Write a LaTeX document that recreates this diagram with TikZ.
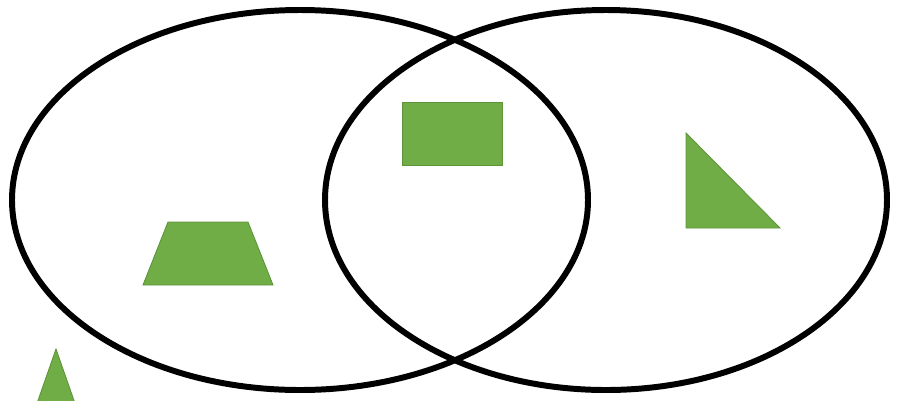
\documentclass[tikz,border=0pt]{standalone}
\usepackage{tikz}
\definecolor{leafgreen}{HTML}{70AD47}
\definecolor{leafedge}{HTML}{5E9438}

\begin{document}
\begin{tikzpicture}[
  x=0.02cm, y=-0.02cm,
  setline/.style={draw=black, line width=3.4pt},
  shapefill/.style={fill=leafgreen, draw=leafedge, line width=0.5pt, line join=miter}
]

\clip (0,0) rectangle (902,400);

% the two sets
\draw[setline] (300,200) ellipse [x radius=288, y radius=190];
\draw[setline] (606,200) ellipse [x radius=281, y radius=190];

% members
\draw[shapefill] (402,102) rectangle (502,165);
\draw[shapefill] (168,222) -- (248,222) -- (273,285) -- (143,285) -- cycle;
\draw[shapefill] (686,133) -- (780,228) -- (686,228) -- cycle;

% outside both sets
\draw[shapefill] (56,349) -- (78,412) -- (34,412) -- cycle;

\end{tikzpicture}
\end{document}
